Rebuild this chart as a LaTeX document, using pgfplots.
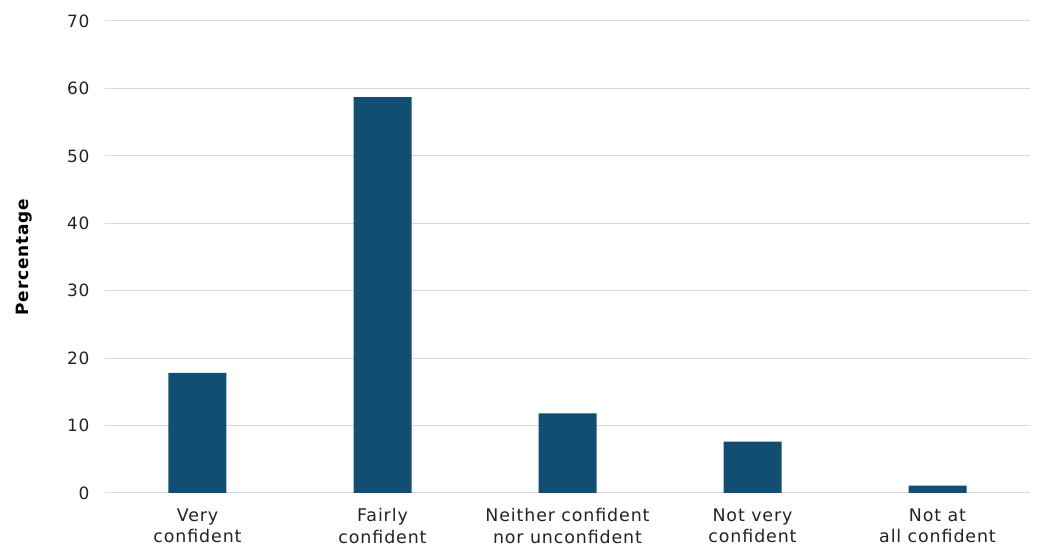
\documentclass[border=0pt]{standalone}
\usepackage{pgfplots}
\pgfplotsset{compat=1.18}
\usepackage{fontspec}
\setmainfont{DejaVu Sans}[LetterSpace=5]
\definecolor{barblue}{RGB}{18,78,114}
\definecolor{gridgray}{RGB}{217,217,217}
\definecolor{txt}{RGB}{35,35,35}
\begin{document}
\begin{tikzpicture}[x=1bp,y=1bp]
\begin{axis}[
  scale only axis,
  width=925bp, height=472bp,
  xmin=-0.5, xmax=4.5,
  ymin=0, ymax=70,
  ytick={0,10,...,70},
  xtick={0,1,2,3,4},
  xticklabels={Very\\confident, Fairly\\confident, Neither confident\\nor unconfident, Not very\\confident, Not at\\all confident},
  xticklabel style={align=center, font=\fontsize{17.5}{21.5}\selectfont, text=txt, yshift=-12bp},
  yticklabel style={font=\fontsize{17}{20}\selectfont, text=txt, xshift=-12bp},
  /pgf/number format/assume math mode=true,
  ymajorgrids, grid style={gridgray, line width=1bp},
  axis line style={draw=none},
  major tick length=0pt,
  ylabel={\bfseries Percentage},
  ylabel style={font=\fontsize{17}{20}\selectfont, text=black, at={(axis description cs:0,0.5)}, anchor=center, yshift=81bp},
  ybar, bar width=58bp,
]
\addplot[fill=barblue, draw=none] coordinates {(0,17.8) (1,58.7) (2,11.8) (3,7.6) (4,1.1)};
\end{axis}
\path[use as bounding box] ([shift={(-105bp,-63bp)}]current axis.south west) rectangle ([shift={(9bp,21bp)}]current axis.north east);
\end{tikzpicture}
\end{document}
